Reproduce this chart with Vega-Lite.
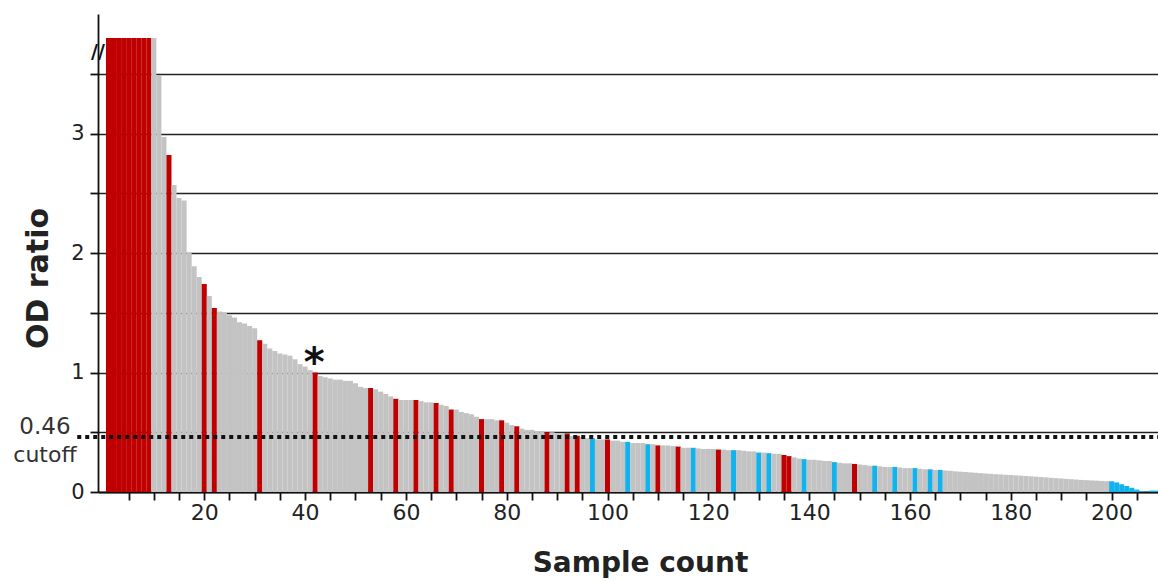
{
  "$schema": "https://vega.github.io/schema/vega-lite/v6.json",
  "width": 1060,
  "height": 478,
  "autosize": "none",
  "padding": {"left": 98, "top": 14, "right": 0, "bottom": 89},
  "background": "white",
  "config": {"view": {"stroke": null}, "font": "DejaVu Sans"},
  "data": {"values": [
    {"s":1,"v":3.8,"c":"r"},{"s":2,"v":3.8,"c":"r"},{"s":3,"v":3.8,"c":"r"},{"s":4,"v":3.8,"c":"r"},{"s":5,"v":3.8,"c":"r"},{"s":6,"v":3.8,"c":"r"},{"s":7,"v":3.8,"c":"r"},{"s":8,"v":3.8,"c":"r"},{"s":9,"v":3.8,"c":"r"},
    {"s":10,"v":3.8,"c":"g"},{"s":11,"v":3.49,"c":"g"},{"s":12,"v":2.97,"c":"g"},{"s":13,"v":2.82,"c":"r"},{"s":14,"v":2.57,"c":"g"},{"s":15,"v":2.46,"c":"g"},{"s":16,"v":2.44,"c":"g"},{"s":17,"v":2.0,"c":"g"},{"s":18,"v":1.89,"c":"g"},{"s":19,"v":1.8,"c":"g"},
    {"s":20,"v":1.74,"c":"r"},{"s":21,"v":1.64,"c":"g"},{"s":22,"v":1.54,"c":"r"},{"s":23,"v":1.51,"c":"g"},{"s":24,"v":1.5,"c":"g"},{"s":25,"v":1.48,"c":"g"},{"s":26,"v":1.46,"c":"g"},{"s":27,"v":1.42,"c":"g"},{"s":28,"v":1.41,"c":"g"},{"s":29,"v":1.39,"c":"g"},
    {"s":30,"v":1.37,"c":"g"},{"s":31,"v":1.27,"c":"r"},{"s":32,"v":1.24,"c":"g"},{"s":33,"v":1.2,"c":"g"},{"s":34,"v":1.18,"c":"g"},{"s":35,"v":1.16,"c":"g"},{"s":36,"v":1.15,"c":"g"},{"s":37,"v":1.14,"c":"g"},{"s":38,"v":1.11,"c":"g"},{"s":39,"v":1.07,"c":"g"},
    {"s":40,"v":1.05,"c":"g"},{"s":41,"v":1.02,"c":"g"},{"s":42,"v":1.0,"c":"r"},{"s":43,"v":0.97,"c":"g"},{"s":44,"v":0.96,"c":"g"},{"s":45,"v":0.95,"c":"g"},{"s":46,"v":0.94,"c":"g"},{"s":47,"v":0.94,"c":"g"},{"s":48,"v":0.93,"c":"g"},{"s":49,"v":0.93,"c":"g"},
    {"s":50,"v":0.91,"c":"g"},{"s":51,"v":0.88,"c":"g"},{"s":52,"v":0.87,"c":"g"},{"s":53,"v":0.87,"c":"r"},{"s":54,"v":0.86,"c":"g"},{"s":55,"v":0.84,"c":"g"},{"s":56,"v":0.82,"c":"g"},{"s":57,"v":0.8,"c":"g"},{"s":58,"v":0.78,"c":"r"},{"s":59,"v":0.77,"c":"g"},
    {"s":60,"v":0.77,"c":"g"},{"s":61,"v":0.77,"c":"g"},{"s":62,"v":0.77,"c":"r"},{"s":63,"v":0.76,"c":"g"},{"s":64,"v":0.75,"c":"g"},{"s":65,"v":0.75,"c":"g"},{"s":66,"v":0.745,"c":"r"},{"s":67,"v":0.73,"c":"g"},{"s":68,"v":0.72,"c":"g"},{"s":69,"v":0.69,"c":"r"},
    {"s":70,"v":0.69,"c":"g"},{"s":71,"v":0.67,"c":"g"},{"s":72,"v":0.66,"c":"g"},{"s":73,"v":0.65,"c":"g"},{"s":74,"v":0.63,"c":"g"},{"s":75,"v":0.61,"c":"r"},{"s":76,"v":0.61,"c":"g"},{"s":77,"v":0.61,"c":"g"},{"s":78,"v":0.6,"c":"g"},{"s":79,"v":0.6,"c":"r"},
    {"s":80,"v":0.58,"c":"g"},{"s":81,"v":0.56,"c":"g"},{"s":82,"v":0.55,"c":"r"},{"s":83,"v":0.53,"c":"g"},{"s":84,"v":0.52,"c":"g"},{"s":85,"v":0.52,"c":"g"},{"s":86,"v":0.51,"c":"g"},{"s":87,"v":0.51,"c":"g"},{"s":88,"v":0.5,"c":"r"},{"s":89,"v":0.5,"c":"g"},
    {"s":90,"v":0.49,"c":"g"},{"s":91,"v":0.49,"c":"g"},{"s":92,"v":0.49,"c":"r"},{"s":93,"v":0.47,"c":"g"},{"s":94,"v":0.47,"c":"r"},{"s":95,"v":0.46,"c":"g"},{"s":96,"v":0.45,"c":"g"},{"s":97,"v":0.45,"c":"b"},{"s":98,"v":0.44,"c":"g"},{"s":99,"v":0.44,"c":"g"},
    {"s":100,"v":0.44,"c":"r"},{"s":101,"v":0.43,"c":"g"},{"s":102,"v":0.43,"c":"g"},{"s":103,"v":0.42,"c":"g"},{"s":104,"v":0.42,"c":"b"},{"s":105,"v":0.41,"c":"g"},{"s":106,"v":0.41,"c":"g"},{"s":107,"v":0.41,"c":"g"},{"s":108,"v":0.4,"c":"b"},{"s":109,"v":0.4,"c":"g"},
    {"s":110,"v":0.39,"c":"r"},{"s":111,"v":0.39,"c":"g"},{"s":112,"v":0.39,"c":"g"},{"s":113,"v":0.385,"c":"g"},{"s":114,"v":0.38,"c":"r"},{"s":115,"v":0.37,"c":"g"},{"s":116,"v":0.37,"c":"g"},{"s":117,"v":0.37,"c":"b"},{"s":118,"v":0.365,"c":"g"},{"s":119,"v":0.36,"c":"g"},
    {"s":120,"v":0.36,"c":"g"},{"s":121,"v":0.36,"c":"g"},{"s":122,"v":0.355,"c":"r"},{"s":123,"v":0.355,"c":"g"},{"s":124,"v":0.35,"c":"g"},{"s":125,"v":0.35,"c":"b"},{"s":126,"v":0.35,"c":"g"},{"s":127,"v":0.345,"c":"g"},{"s":128,"v":0.34,"c":"g"},{"s":129,"v":0.34,"c":"g"},
    {"s":130,"v":0.33,"c":"b"},{"s":131,"v":0.33,"c":"g"},{"s":132,"v":0.325,"c":"b"},{"s":133,"v":0.32,"c":"g"},{"s":134,"v":0.32,"c":"g"},{"s":135,"v":0.31,"c":"r"},{"s":136,"v":0.3,"c":"r"},{"s":137,"v":0.29,"c":"g"},{"s":138,"v":0.28,"c":"g"},{"s":139,"v":0.275,"c":"b"},
    {"s":140,"v":0.27,"c":"g"},{"s":141,"v":0.27,"c":"g"},{"s":142,"v":0.265,"c":"g"},{"s":143,"v":0.26,"c":"g"},{"s":144,"v":0.26,"c":"g"},{"s":145,"v":0.25,"c":"b"},{"s":146,"v":0.245,"c":"g"},{"s":147,"v":0.24,"c":"g"},{"s":148,"v":0.24,"c":"g"},{"s":149,"v":0.235,"c":"r"},
    {"s":150,"v":0.23,"c":"g"},{"s":151,"v":0.225,"c":"g"},{"s":152,"v":0.22,"c":"g"},{"s":153,"v":0.22,"c":"b"},{"s":154,"v":0.215,"c":"g"},{"s":155,"v":0.21,"c":"g"},{"s":156,"v":0.21,"c":"g"},{"s":157,"v":0.21,"c":"b"},{"s":158,"v":0.205,"c":"g"},{"s":159,"v":0.2,"c":"g"},
    {"s":160,"v":0.2,"c":"g"},{"s":161,"v":0.2,"c":"b"},{"s":162,"v":0.195,"c":"g"},{"s":163,"v":0.19,"c":"g"},{"s":164,"v":0.19,"c":"b"},{"s":165,"v":0.185,"c":"g"},{"s":166,"v":0.185,"c":"b"},{"s":167,"v":0.18,"c":"g"},{"s":168,"v":0.177,"c":"g"},{"s":169,"v":0.173,"c":"g"},
    {"s":170,"v":0.17,"c":"g"},{"s":171,"v":0.167,"c":"g"},{"s":172,"v":0.164,"c":"g"},{"s":173,"v":0.161,"c":"g"},{"s":174,"v":0.158,"c":"g"},{"s":175,"v":0.155,"c":"g"},{"s":176,"v":0.152,"c":"g"},{"s":177,"v":0.149,"c":"g"},{"s":178,"v":0.147,"c":"g"},{"s":179,"v":0.144,"c":"g"},
    {"s":180,"v":0.142,"c":"g"},{"s":181,"v":0.139,"c":"g"},{"s":182,"v":0.137,"c":"g"},{"s":183,"v":0.134,"c":"g"},{"s":184,"v":0.131,"c":"g"},{"s":185,"v":0.128,"c":"g"},{"s":186,"v":0.125,"c":"g"},{"s":187,"v":0.122,"c":"g"},{"s":188,"v":0.119,"c":"g"},{"s":189,"v":0.116,"c":"g"},
    {"s":190,"v":0.113,"c":"g"},{"s":191,"v":0.11,"c":"g"},{"s":192,"v":0.107,"c":"g"},{"s":193,"v":0.104,"c":"g"},{"s":194,"v":0.101,"c":"g"},{"s":195,"v":0.099,"c":"g"},{"s":196,"v":0.097,"c":"g"},{"s":197,"v":0.095,"c":"g"},{"s":198,"v":0.093,"c":"g"},{"s":199,"v":0.091,"c":"g"},
    {"s":200,"v":0.09,"c":"b"},{"s":201,"v":0.08,"c":"b"},{"s":202,"v":0.065,"c":"b"},{"s":203,"v":0.05,"c":"b"},{"s":204,"v":0.035,"c":"b"},{"s":205,"v":0.02,"c":"b"},{"s":206,"v":0.008,"c":"b"},{"s":207,"v":0.004,"c":"b"},{"s":208,"v":0.012,"c":"b"},{"s":209,"v":0.012,"c":"b"}
  ]},
  "layer": [
    {
      "mark": {"type": "bar", "width": 5.04},
      "encoding": {
        "x": {
          "field": "s", "type": "quantitative",
          "scale": {"domain": [-1.08, 209.2], "nice": false, "zero": false, "padding": 0},
          "axis": {
            "title": "Sample count",
            "values": [5,10,15,20,25,30,35,40,45,50,55,60,65,70,75,80,85,90,95,100,105,110,115,120,125,130,135,140,145,150,155,160,165,170,175,180,185,190,195,200,205],
            "tickCount": 100,
            "labelExpr": "datum.value % 20 === 0 ? datum.label : ''",
            "labelOverlap": false,
            "labelBound": false,
            "labelFlush": false,
            "grid": false,
            "domainColor": "#111", "domainWidth": 1.8,
            "tickColor": "#111", "tickWidth": 1.8, "tickSize": 8,
            "labelFont": "DejaVu Sans", "labelFontSize": 22, "labelColor": "#222", "labelPadding": 2,
            "titleFont": "DejaVu Sans", "titleFontSize": 28, "titleFontWeight": "bold", "titleColor": "#222",
            "titleX": 542, "titleY": 79, "titleBaseline": "alphabetic", "titleAlign": "center", "titleAnchor": "middle"
          }
        },
        "y": {
          "field": "v", "type": "quantitative",
          "scale": {"domain": [0, 4], "nice": false, "padding": 0},
          "axis": {
            "title": "OD ratio",
            "values": [0, 0.5, 1, 1.5, 2, 2.5, 3, 3.5],
            "tickCount": 50,
            "labelExpr": "datum.value % 1 === 0 ? format(datum.value, 'd') : ''",
            "labelOverlap": false,
            "grid": true, "gridColor": "#222", "gridWidth": 1.6, "gridOpacity": 1,
            "domainColor": "#111", "domainWidth": 1.8,
            "tickColor": "#111", "tickWidth": 1.8, "tickSize": 8,
            "labelFont": "DejaVu Sans", "labelFontSize": 21, "labelColor": "#222", "labelPadding": 6,
            "titleFont": "DejaVu Sans", "titleFontSize": 30, "titleFontWeight": "bold", "titleColor": "#222",
            "titleX": -51, "titleY": 264, "titleBaseline": "alphabetic", "titleAlign": "center", "titleAngle": -90
          }
        },
        "color": {
          "field": "c", "type": "nominal",
          "scale": {"domain": ["r", "g", "b"], "range": ["#c00000", "#c3c3c3", "#12b2ec"]},
          "legend": null
        }
      }
    },
    {
      "data": {"values": [{}]},
      "mark": {"type": "rule", "color": "#111", "strokeWidth": 4, "strokeDash": [4, 4]},
      "encoding": {
        "x": {"datum": -5.2, "type": "quantitative"},
        "x2": {"datum": 209.2},
        "y": {"datum": 0.46, "type": "quantitative"}
      }
    },
    {
      "data": {"values": [{}]},
      "mark": {"type": "text", "text": "0.46", "font": "DejaVu Sans", "fontSize": 23, "color": "#333", "align": "center", "baseline": "middle"},
      "encoding": {
        "x": {"datum": -11.6, "type": "quantitative"},
        "y": {"datum": 0.546, "type": "quantitative"}
      }
    },
    {
      "data": {"values": [{}]},
      "mark": {"type": "text", "text": "cutoff", "font": "DejaVu Sans", "fontSize": 22, "color": "#333", "align": "center", "baseline": "middle"},
      "encoding": {
        "x": {"datum": -11.6, "type": "quantitative"},
        "y": {"datum": 0.31, "type": "quantitative"}
      }
    },
    {
      "data": {"values": [{}]},
      "mark": {"type": "text", "text": "*", "font": "DejaVu Sans", "fontSize": 40, "fontWeight": "bold", "color": "#111", "align": "center", "baseline": "alphabetic"},
      "encoding": {
        "x": {"datum": 41.8, "type": "quantitative"},
        "y": {"datum": 0.97, "type": "quantitative"}
      }
    },
    {
      "data": {"values": [{}]},
      "mark": {"type": "text", "text": "//", "font": "DejaVu Sans", "fontSize": 19, "fontWeight": "bold", "color": "#111", "align": "center", "baseline": "middle"},
      "encoding": {
        "x": {"datum": -1.08, "type": "quantitative"},
        "y": {"datum": 3.68, "type": "quantitative"}
      }
    }
  ]
}
